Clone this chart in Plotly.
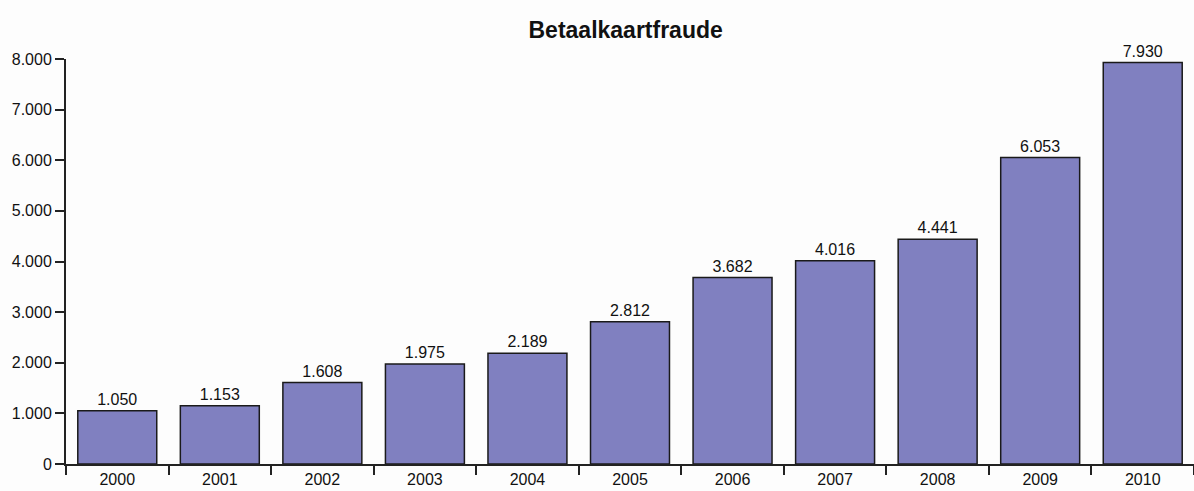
import plotly.graph_objects as go

years = ["2000", "2001", "2002", "2003", "2004", "2005", "2006", "2007", "2008", "2009", "2010"]
values = [1050, 1153, 1608, 1975, 2189, 2812, 3682, 4016, 4441, 6053, 7930]
y_ticks = [0, 1000, 2000, 3000, 4000, 5000, 6000, 7000, 8000]

FONT = "Liberation Sans, Arial"

fig = go.Figure(go.Bar(
    x=years, y=values,
    marker=dict(color="#8080C0", line=dict(color="#1a1a1a", width=1.5)),
    width=0.77,
    text=values, texttemplate="%{y:,d}", textposition="outside",
    textfont=dict(family=FONT, size=16, color="#111111"),
    cliponaxis=False,
))

fig.update_layout(
    width=1194, height=491,
    margin=dict(l=66, r=0, t=59, b=27, autoexpand=False),
    paper_bgcolor="#FDFDFD", plot_bgcolor="#FDFDFD",
    separators=",.",
    title=dict(text="<b>Betaalkaartfraude</b>", x=0.524, xanchor="center", y=0.939, yanchor="middle",
               font=dict(family=FONT, size=23, color="#111111")),
    showlegend=False,
    bargap=0.23,
)
fig.update_xaxes(
    type="category", showgrid=False, showline=True, linecolor="#222222", linewidth=2,
    ticks="outside", tickson="boundaries", ticklen=9, tickcolor="#222222", tickwidth=1.5,
    tickfont=dict(family=FONT, size=16, color="#111111"), automargin=False,
)
fig.update_yaxes(
    range=[0, 8000], tickvals=y_ticks, tickformat=",d", showgrid=False, zeroline=False,
    showline=True, linecolor="#222222", linewidth=2,
    ticks="outside", ticklen=9, tickcolor="#222222", tickwidth=1.5,
    tickfont=dict(family=FONT, size=16, color="#111111"), automargin=False,
)

fig.write_html("out.html", config={"displayModeBar": False},
               post_script="document.body.style.margin='0';document.body.style.padding='0';")
